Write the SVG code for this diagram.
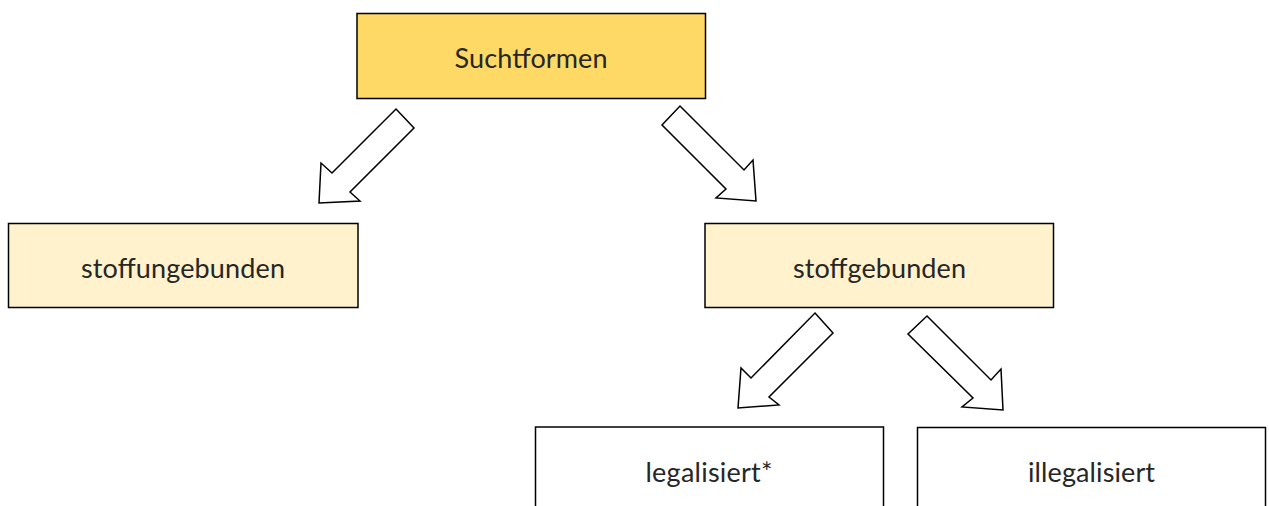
<svg xmlns="http://www.w3.org/2000/svg" width="1269" height="506" viewBox="0 0 1269 506">
<style>
.box{stroke:#000;stroke-width:1.5}
.lbl{font-family:Lato,"Open Sans","Liberation Sans",sans-serif;font-size:27px;fill:#262626;text-anchor:middle}
.arr{fill:#fff;stroke:#000;stroke-width:1.5;stroke-linejoin:miter}
</style>
<rect width="1269" height="506" fill="#fff"/>
<g id="connectors">
<polygon class="arr" points="396,109 414,128 350,192 360,201 319,203 321,163 332,173"/>
<polygon class="arr" points="680,106 744,170 753,160 756,201 716,198 726,189 662,125"/>
<polygon class="arr" points="815,313 833,333 769,397 779,405 738,408 741,368 751,378"/>
<polygon class="arr" points="927,316 991,380 1001,369 1003,410 962,407 973,398 908,334"/>
</g>
<g id="node-suchtformen">
<rect class="box" x="357" y="13.5" width="348.5" height="85" fill="#FFD966"/>
<text class="lbl" x="531" y="68" textLength="153">Suchtformen</text>
</g>
<g id="node-stoffungebunden">
<rect class="box" x="8.5" y="223.5" width="349.5" height="84" fill="#FFF2CC"/>
<text class="lbl" x="183" y="278" textLength="204">stoffungebunden</text>
</g>
<g id="node-stoffgebunden">
<rect class="box" x="705" y="223.5" width="348.5" height="84" fill="#FFF2CC"/>
<text class="lbl" x="879.5" y="278" textLength="173">stoffgebunden</text>
</g>
<g id="node-legalisiert">
<rect class="box" x="535.5" y="427" width="348" height="90" fill="#fff"/>
<text class="lbl" x="709" y="482" textLength="127">legalisiert*</text>
</g>
<g id="node-illegalisiert">
<rect class="box" x="917.5" y="427.5" width="348" height="90" fill="#fff"/>
<text class="lbl" x="1091.5" y="482" textLength="127">illegalisiert</text>
</g>
</svg>
